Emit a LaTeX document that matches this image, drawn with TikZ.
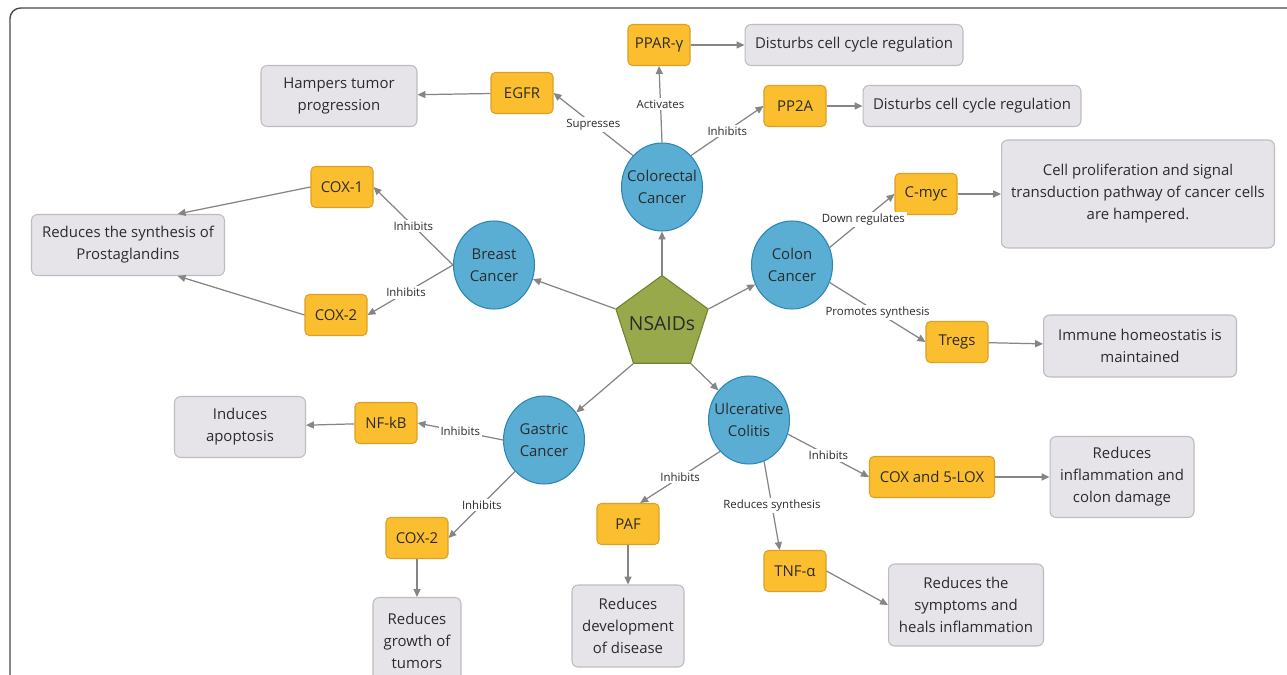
\documentclass[tikz,border=0pt]{standalone}
\usepackage{fontspec}
\setmainfont{Open Sans}
\usetikzlibrary{shapes.geometric,arrows.meta}
\definecolor{txt}{HTML}{2B2B2B}
\definecolor{arr}{HTML}{858585}
\definecolor{hub}{HTML}{98A94C}
\definecolor{hubline}{HTML}{6F8230}
\definecolor{ill}{HTML}{5AAED4}
\definecolor{illline}{HTML}{2A86B6}
\definecolor{tgt}{HTML}{FBBE2E}
\definecolor{tgtline}{HTML}{DDA024}
\definecolor{res}{HTML}{E7E4E9}
\definecolor{resline}{HTML}{BEBCC0}
\definecolor{frame}{HTML}{4A4A4A}

\begin{document}
\begin{tikzpicture}[x=0.02cm,y=-0.02cm,
  >={Triangle[length=4.5pt,width=4pt]},
  every node/.style={font=\fontsize{8.5}{12.5}\selectfont,text=txt},
  hubnode/.style={regular polygon,regular polygon sides=5,minimum size=1.94cm,inner sep=-12pt,
    draw=hubline,fill=hub,line width=0.6pt,font=\fontsize{11}{13}\selectfont},
  ill/.style={ellipse,draw=illline,fill=ill,line width=0.6pt,minimum width=1.62cm,
    minimum height=1.76cm,align=center,inner xsep=-8pt,inner ysep=0pt},
  tgtbox/.style={rectangle,rounded corners=2.5pt,draw=tgtline,fill=tgt,line width=0.6pt,
    minimum width=1.24cm,minimum height=0.82cm,inner sep=2pt},
  resbox/.style={rectangle,rounded corners=3.5pt,draw=resline,fill=res,line width=0.6pt,
    align=center,inner sep=2pt},
  link/.style={->,draw=arr,line width=0.7pt},
  rel/.style={fill=white,inner sep=1pt,font=\fontsize{6.5}{7.5}\selectfont}]
  \useasboundingbox (0,0) rectangle (1287,675);
  \fill[white] (0,0) rectangle (1287,675);
  \draw[frame,line width=0.8pt,rounded corners=6pt] (10,690) -- (10,8) -- (1300,8);
      \node[hubnode] (A) at (662,324) {NSAIDs};
      \node[ill] (B) at (662,187) {Colorectal\\Cancer};
      \node[ill] (C) at (494,265) {Breast\\Cancer};
      \node[ill] (D) at (792,265) {Colon\\Cancer};
      \node[ill] (E) at (544,440) {Gastric\\Cancer};
      \node[ill] (F) at (749,420) {Ulcerative\\Colitis};
        % targets
      \node[tgtbox] (G) at (659,45) {PPAR-γ};
      \node[tgtbox] (H) at (795,106) {PP2A};
      \node[tgtbox] (I) at (522,93) {EGFR};
      \node[tgtbox] (J) at (342,187) {COX-1};
      \node[tgtbox] (K) at (336,315) {COX-2};
      \node[tgtbox] (L) at (926,194) {C-myc};
      \node[tgtbox] (M) at (957,342) {Tregs};
      \node[tgtbox] (N) at (386,423) {NF-kB};
      \node[tgtbox] (O) at (417,538) {COX-2};
      \node[tgtbox] (P) at (628,524) {PAF};
      \node[tgtbox] (Q) at (795,571) {TNF-α};
      \node[tgtbox,minimum width=2.5cm] (R) at (932,477) {COX and 5-LOX};
        % effects
      \node[resbox,minimum width=4.36cm,minimum height=0.82cm] (S) at (854,45) {Disturbs cell cycle regulation};
      \node[resbox,minimum width=4.36cm,minimum height=0.82cm] (T) at (972,106) {Disturbs cell cycle regulation};
      \node[resbox,minimum width=3.12cm,minimum height=1.22cm] (U) at (339,96) {Hampers tumor\\progression};
      \node[resbox,minimum width=3.86cm,minimum height=1.22cm] (V) at (128,245) {Reduces the synthesis of\\Prostaglandins};
      \node[resbox,minimum width=5.46cm,minimum height=2.16cm] (W) at (1138,194) {Cell proliferation and signal\\transduction pathway of cancer cells\\are hampered.};
      \node[resbox,minimum width=3.86cm,minimum height=1.24cm] (X) at (1140,346) {Immune homeostatis is\\maintained};
      \node[resbox,minimum width=2.62cm,minimum height=1.22cm] (Y) at (240,427) {Induces\\apoptosis};
      \node[resbox,minimum width=1.76cm,minimum height=1.74cm] (Z) at (417,641) {Reduces\\growth of\\tumors};
      \node[resbox,minimum width=2.24cm,minimum height=1.64cm] (AA) at (628,626) {Reduces\\development\\of disease};
      \node[resbox,minimum width=3.1cm,minimum height=1.64cm] (AB) at (966,605) {Reduces the\\symptoms and\\heals inflammation};
      \node[resbox,minimum width=2.88cm,minimum height=1.62cm] (AC) at (1122,477) {Reduces\\inflammation and\\colon damage};
        % links
      \draw[link] (A.corner 1) -- (B);
      \draw[link] (A.corner 2) -- (C);
      \draw[link] (A.corner 5) -- (D);
      \draw[link] (A.corner 3) -- (E);
      \draw[link] (A.corner 4) -- (F);
      \draw[link] (B.north west) -- node[rel] {Supresses} (I.east);
      \draw[link] (B.north) -- node[rel] {Activates} (G.south);
      \draw[link] (B.north east) -- node[rel] {Inhibits} (H.west);
      \draw[link] (G) -- (S);
      \draw[link] (H) -- (T);
      \draw[link] (I) -- (U);
      \draw[link] (C.west) -- node[rel] {Inhibits} (J.east);
      \draw[link] (C.west) -- node[rel,pos=0.55] {Inhibits} (K.east);
      \draw[link] (J.west) -- (V.32);
      \draw[link] (K.west) -- (V.-32);
      \draw[link] (D.25) -- node[rel,pos=0.52] {Down regulates} (L.west);
      \draw[link] (D.-25) -- node[rel] {Promotes synthesis} (M.west);
      \draw[link] (L) -- (W);
      \draw[link] (M) -- (X);
      \draw[link] (E.west) -- node[rel] {Inhibits} (N.east);
      \draw[link] (E.south west) -- node[rel] {Inhibits} (O.east);
      \draw[link] (N) -- (Y);
      \draw[link] (O) -- (Z);
      \draw[link] (F.south west) -- node[rel] {Inhibits} (P.60);
      \draw[link] (F.-70) -- node[rel] {Reduces synthesis} (Q.126);
      \draw[link] (F.-20) -- node[rel] {Inhibits} (R.west);
      \draw[link] (P) -- (AA);
      \draw[link] (Q.east) -- (AB.west);
      \draw[link] (R) -- (AC);
\end{tikzpicture}
\end{document}
